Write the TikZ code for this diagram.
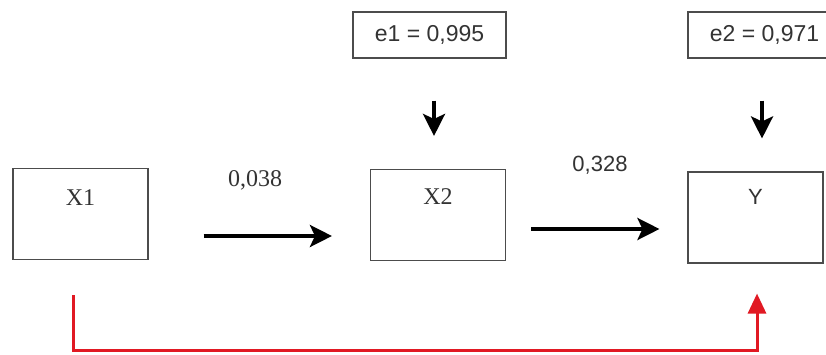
\documentclass[tikz,border=0pt]{standalone}
\usepackage{fontspec}
\setmainfont{Liberation Serif}
\newfontfamily\helv{Liberation Sans}
\usetikzlibrary{arrows.meta}

\begin{document}
\begin{tikzpicture}[x=1pt,y=1pt,
        caja/.style={draw=borde,line width=1.1pt,inner sep=0pt,minimum width=135pt,minimum height=91pt},
        error/.style={draw=borde,line width=1.1pt,inner sep=0pt,minimum width=153pt,minimum height=46pt,
            font=\helv\fontsize{23}{26}\selectfont,text=texto},
        flecha/.style={line width=3.8pt,-{Stealth[length=22pt,width=22pt,inset=5pt]}},
        etiq/.style={font=\fontsize{24}{27}\selectfont,text=texto}]
        %colores
        \colorlet{borde}{black!70}
        \colorlet{texto}{black!80}
        \definecolor{rojo}{RGB}{225,25,35}

        \useasboundingbox (0,0) rectangle (826,354);

        % Cajas de las variables
        \node[caja,label={[anchor=north,yshift=-18pt,etiq]north:X1}] (x1) at (80.5,140) {};
        \node[caja,label={[anchor=north,yshift=-16pt,etiq]north:X2}] (x2) at (438,139) {};
        \node[caja,label={[anchor=north,yshift=-14pt,etiq,font=\helv\fontsize{22}{25}\selectfont]north:Y}] (y) at (755.5,136.5) {};

        % Errores
        \node[error] (e1) at (429.5,319) {e1 = 0,995};
        \node[error] (e2) at (764.5,319) {e2 = 0,971};

        % Coeficientes
        \node[etiq] (c1) at (255,174) {0,038};
        \node[etiq,font=\helv\fontsize{22}{25}\selectfont] (c2) at (600,189) {0,328};

        % Flechas
        \draw[flecha,shorten <=55pt,shorten >=38pt] ([yshift=-22pt]x1.east) -- ([yshift=-21pt]x2.west);
        \draw[flecha,shorten <=25pt,shorten >=28pt] ([yshift=-14pt]x2.east) -- ([yshift=-11.5pt]y.west);
        \draw[flecha,shorten <=42pt,shorten >=33pt] ([xshift=4.5pt]e1.south) -- ([xshift=-4pt]x2.north);
        \draw[flecha,shorten <=42pt,shorten >=33pt] ([xshift=-2.5pt]e2.south) -- ([xshift=6.5pt]y.north);

        % Efecto directo
        \draw[rojo,line width=3pt,-{Triangle[length=20pt,width=18pt]},shorten <=35pt,shorten >=30pt]
            ([xshift=-7.5pt]x1.south) -- ++(0,-90) -| ([xshift=1.5pt]y.south);
    \end{tikzpicture}
\end{document}
